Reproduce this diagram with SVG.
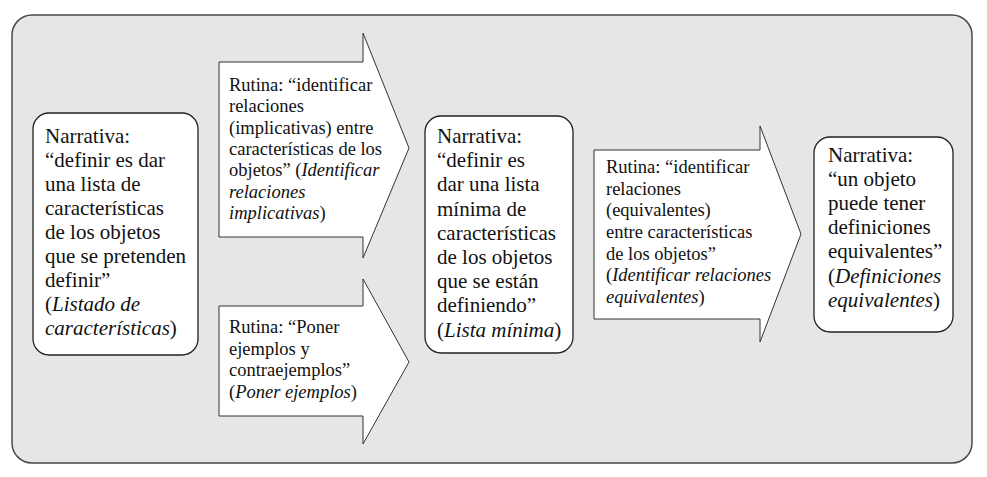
<svg xmlns="http://www.w3.org/2000/svg" width="987" height="477" viewBox="0 0 987 477">
<style>
.bg{fill:#e6e6e6;stroke:#4a4a4a;stroke-width:1.5}
.nar{fill:#fff;stroke:#222;stroke-width:1.3}
.arr{fill:#fff;stroke:#333;stroke-width:1}
.tn{font-size:21px;fill:#111}
.tr{font-size:18.5px;fill:#111}
.i{font-style:italic}
</style>
<rect class="bg" x="12" y="15" width="960" height="448" rx="20" ry="20"/>
<g id="connectors">
<g id="rutina1">
<polygon class="arr" points="219,62 363,62 363,33 409,148 363,258 363,237 219,237"/>
<text class="tr" font-family="Liberation Serif, serif"><tspan x="229" y="91">Rutina: “identificar</tspan><tspan x="229" y="112.3">relaciones</tspan><tspan x="229" y="133.6">(implicativas) entre</tspan><tspan x="229" y="155">características de los</tspan><tspan x="229" y="176.3">objetos” (<tspan class="i">Identificar</tspan></tspan><tspan x="229" y="197.6" class="i">relaciones</tspan><tspan x="229" y="219"><tspan class="i">implicativas</tspan>)</tspan></text>
</g>
<g id="rutina2">
<polygon class="arr" points="219,306 363,306 363,279 409,362 363,444 363,416 219,416"/>
<text class="tr" font-family="Liberation Serif, serif"><tspan x="229" y="333">Rutina: “Poner</tspan><tspan x="229" y="354.7">ejemplos y</tspan><tspan x="229" y="376.4">contraejemplos”</tspan><tspan x="229" y="398">(<tspan class="i">Poner ejemplos</tspan>)</tspan></text>
</g>
<g id="rutina3">
<polygon class="arr" points="594,150 760,150 760,126 801,234 760,342 760,319 594,319"/>
<text class="tr" font-family="Liberation Serif, serif"><tspan x="606" y="173">Rutina: “identificar</tspan><tspan x="606" y="194.7">relaciones</tspan><tspan x="606" y="216.4">(equivalentes)</tspan><tspan x="606" y="238">entre características</tspan><tspan x="606" y="259.7">de los objetos”</tspan><tspan x="606" y="281.4">(<tspan class="i">Identificar relaciones</tspan></tspan><tspan x="606" y="303"><tspan class="i">equivalentes</tspan>)</tspan></text>
</g>
</g>
<g id="narrativa1">
<rect class="nar" x="33" y="113" width="165" height="242" rx="16" ry="16"/>
<text class="tn" font-family="Liberation Serif, serif"><tspan x="45" y="143">Narrativa:</tspan><tspan x="45" y="167">“definir es dar</tspan><tspan x="45" y="191">una lista de</tspan><tspan x="45" y="215">características</tspan><tspan x="45" y="239">de los objetos</tspan><tspan x="45" y="263">que se pretenden</tspan><tspan x="45" y="287">definir”</tspan><tspan x="45" y="311">(<tspan class="i">Listado de</tspan></tspan><tspan x="45" y="335"><tspan class="i">características</tspan>)</tspan></text>
</g>
<g id="narrativa2">
<rect class="nar" x="425" y="116" width="148" height="237" rx="16" ry="16"/>
<text class="tn" font-family="Liberation Serif, serif"><tspan x="437" y="143">Narrativa:</tspan><tspan x="437" y="167.2">“definir es</tspan><tspan x="437" y="191.4">dar una lista</tspan><tspan x="437" y="215.6">mínima de</tspan><tspan x="437" y="239.8">características</tspan><tspan x="437" y="264">de los objetos</tspan><tspan x="437" y="288.2">que se están</tspan><tspan x="437" y="312.4">definiendo”</tspan><tspan x="437" y="336.6">(<tspan class="i">Lista mínima</tspan>)</tspan></text>
</g>
<g id="narrativa3">
<rect class="nar" x="814" y="137" width="139" height="195" rx="16" ry="16"/>
<text class="tn" font-family="Liberation Serif, serif"><tspan x="828" y="162">Narrativa:</tspan><tspan x="828" y="186">“un objeto</tspan><tspan x="828" y="210">puede tener</tspan><tspan x="828" y="234">definiciones</tspan><tspan x="828" y="258">equivalentes”</tspan><tspan x="828" y="282.5">(<tspan class="i">Definiciones</tspan></tspan><tspan x="828" y="307"><tspan class="i">equivalentes</tspan>)</tspan></text>
</g>
</svg>
